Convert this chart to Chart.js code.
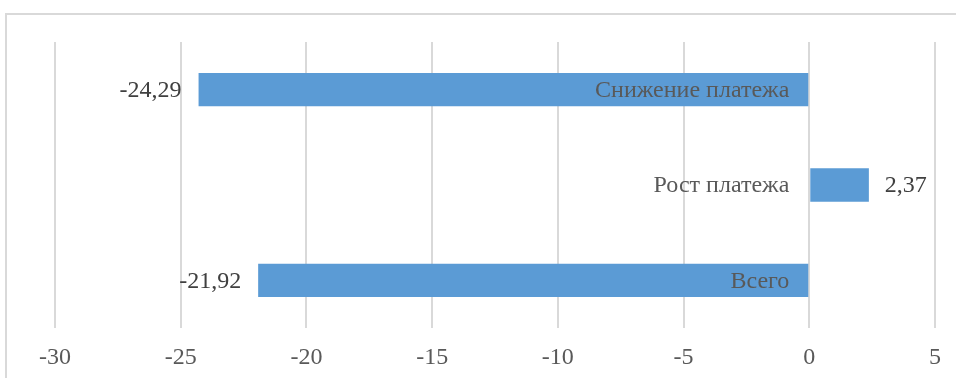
<!DOCTYPE html>
<html>
<head>
<meta charset="utf-8">
<script src="https://cdn.jsdelivr.net/npm/chart.js@4"></script>
<style>
  html, body { margin: 0; padding: 0; background: #fff; overflow: hidden; }
  #wrap { position: relative; width: 956px; height: 378px; }
  #frame { position: absolute; left: 5px; top: 13px; width: 1000px; height: 400px; border: 2px solid #d9d9d9; box-sizing: border-box; }
  canvas { position: absolute; left: 0; top: 0; }
</style>
</head>
<body>
<div id="wrap">
  <div id="frame"></div>
  <canvas id="chart" width="956" height="378"></canvas>
</div>
<script>
const categories = ["Снижение платежа", "Рост платежа", "Всего"];
const values = [-24.29, 2.37, -21.92];
const valueLabels = ["-24,29", "2,37", "-21,92"];

const font = "Liberation Serif";

// draws category names near zero and values beyond the bar end
const barLabels = {
  id: "barLabels",
  afterDatasetsDraw(chart) {
    const ctx = chart.ctx;
    const x = chart.scales.x;
    const zero = x.getPixelForValue(0);
    const meta = chart.getDatasetMeta(0);
    ctx.save();
    ctx.font = "24px " + font;
    ctx.textBaseline = "middle";
    meta.data.forEach((bar, i) => {
      const y = bar.y + 1;
      ctx.fillStyle = "#595959";
      ctx.textAlign = "right";
      ctx.fillText(categories[i], zero - 20, y);
      ctx.fillStyle = "#404040";
      if (values[i] < 0) {
        ctx.textAlign = "right";
        ctx.fillText(valueLabels[i], bar.x - 17, y);
      } else {
        ctx.textAlign = "left";
        ctx.fillText(valueLabels[i], bar.x + 16, y);
      }
    });
    ctx.restore();
  }
};

new Chart(document.getElementById("chart"), {
  type: "bar",
  data: {
    labels: categories,
    datasets: [{
      data: values,
      backgroundColor: "#5b9bd5",
      borderWidth: 0,
      barPercentage: 0.7,
      categoryPercentage: 0.5
    }]
  },
  options: {
    indexAxis: "y",
    responsive: false,
    animation: false,
    layout: { padding: { left: 55, right: 19, top: 42, bottom: 0 } },
    plugins: { legend: { display: false }, tooltip: { enabled: false } },
    scales: {
      x: {
        min: -30,
        max: 5,
        ticks: { stepSize: 5, color: "#595959", font: { family: font, size: 24 }, padding: 15 },
        grid: { color: "#d9d9d9", lineWidth: 2, drawTicks: false },
        border: { display: false },
        afterFit(scale) { scale.height = 50; }
      },
      y: { display: false }
    }
  },
  plugins: [barLabels]
});
</script>
</body>
</html>
